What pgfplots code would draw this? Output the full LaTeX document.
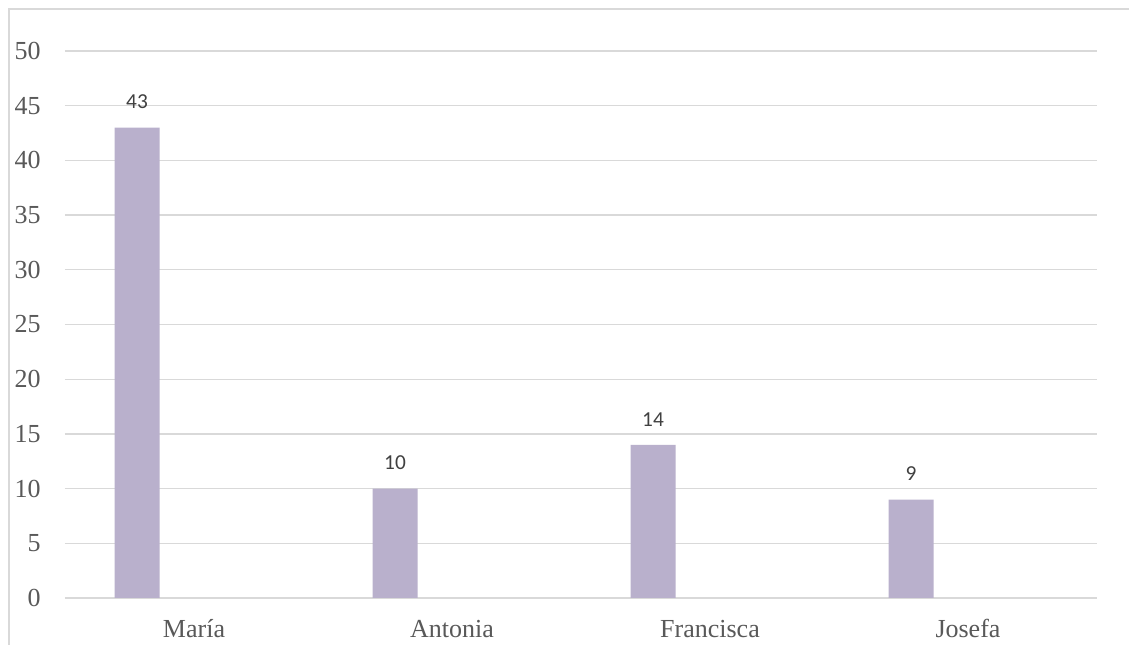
\documentclass[border=0pt]{standalone}
\usepackage{pgfplots}
\pgfplotsset{compat=1.18}
\usepackage{fontspec}
\setmainfont{Liberation Serif}
\newfontfamily\carlito{Carlito}
\definecolor{barc}{HTML}{B9B0CC}
\definecolor{gridc}{HTML}{D9D9D9}
\definecolor{tickc}{HTML}{595959}
\definecolor{labc}{HTML}{404040}
\begin{document}
\begin{tikzpicture}
\useasboundingbox (0,0) rectangle (846.75pt,483.75pt);
\fill[white] (0,0) rectangle (846.75pt,483.75pt);
\draw[gridc, line width=1pt] (6.75pt,0) -- (6.75pt,477pt) -- (846.75pt,477pt);
\begin{axis}[
  at={(48.75pt,35.25pt)}, anchor=south west,
  width=774pt, height=410.25pt, scale only axis,
  xmin=-0.5, xmax=3.5, ymin=0, ymax=50,
  enlargelimits=false,
  axis line style={draw=none},
  tick style={draw=none},
  major tick length=0pt,
  ytick={0,5,...,50},
  xtick={0,1,2,3},
  xticklabels={María,Antonia,Francisca,Josefa},
  ymajorgrids,
  grid style={gridc, line width=1pt},
  /pgf/number format/assume math mode=true,
  ticklabel style={font=\fontsize{19.5}{22}\selectfont, text=tickc, inner sep=0pt},
  yticklabel style={anchor=east, xshift=-18pt},
  xticklabel style={anchor=base, yshift=-30pt},
  ybar, bar width=33.75pt, bar shift=-42.75pt,
  nodes near coords,
  every node near coord/.append style={font=\carlito\fontsize{16}{19}\selectfont, text=labc, anchor=base, inner sep=0pt, yshift=14pt},
]
\addplot[fill=barc, draw=none] coordinates {(0,43) (1,10) (2,14) (3,9)};
\end{axis}
\end{tikzpicture}
\end{document}
